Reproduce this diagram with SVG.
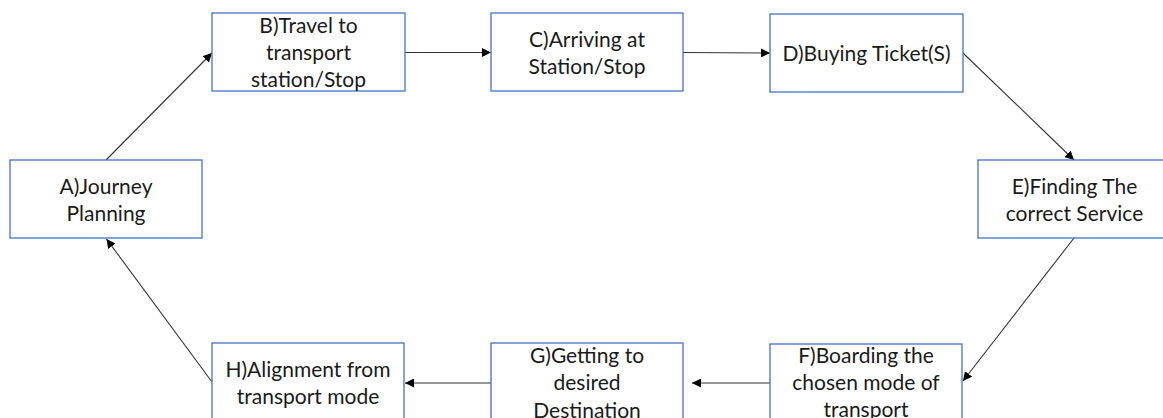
<svg xmlns="http://www.w3.org/2000/svg" width="1163" height="418" viewBox="0 0 1163 418">
<style>
.box{fill:#fff;stroke:#4472C4;stroke-width:1.3}
.lbl{font-family:Lato,"Liberation Sans",sans-serif;font-size:21px;fill:#1a1a1a;text-anchor:middle}
.edge{stroke:#333;stroke-width:1.1;fill:none;marker-end:url(#arr)}
</style>
<defs>
<marker id="arr" viewBox="0 0 10 10" refX="10" refY="5" markerWidth="9" markerHeight="9" markerUnits="userSpaceOnUse" orient="auto">
<path d="M0,0 L10,5 L0,10 z" fill="#000"/>
</marker>
</defs>
<rect width="1163" height="418" fill="#fff"/>
<g id="connectors">
<line class="edge" x1="106" y1="160" x2="212" y2="53"/>
<line class="edge" x1="405" y1="52.5" x2="491" y2="52.5"/>
<line class="edge" x1="683" y1="52.5" x2="770" y2="53"/>
<line class="edge" x1="963" y1="53" x2="1074" y2="160"/>
<line class="edge" x1="1074" y1="238" x2="963" y2="381"/>
<line class="edge" x1="770" y1="383" x2="692" y2="383"/>
<line class="edge" x1="491" y1="383" x2="405" y2="383"/>
<line class="edge" x1="212" y1="382" x2="106.5" y2="239"/>
</g>
<g id="nodeA">
<rect class="box" x="10" y="160" width="192" height="78"/>
<text class="lbl" x="106" y="194">A)Journey</text>
<text class="lbl" x="106" y="221">Planning</text>
</g>
<g id="nodeB">
<rect class="box" x="212" y="13" width="193" height="78"/>
<text class="lbl" x="308.5" y="33">B)Travel to</text>
<text class="lbl" x="308.5" y="60">transport</text>
<text class="lbl" x="308.5" y="87">station/Stop</text>
</g>
<g id="nodeC">
<rect class="box" x="491" y="13" width="192" height="78"/>
<text class="lbl" x="587" y="47">C)Arriving at</text>
<text class="lbl" x="587" y="74">Station/Stop</text>
</g>
<g id="nodeD">
<rect class="box" x="770" y="14" width="193" height="78"/>
<text class="lbl" x="866.5" y="61">D)Buying Ticket(S)</text>
</g>
<g id="nodeE">
<rect class="box" x="978" y="160" width="194" height="78"/>
<text class="lbl" x="1074.5" y="194">E)Finding The</text>
<text class="lbl" x="1074.5" y="221">correct Service</text>
</g>
<g id="nodeF">
<rect class="box" x="770" y="344" width="192" height="80"/>
<text class="lbl" x="866" y="363">F)Boarding the</text>
<text class="lbl" x="866" y="390">chosen mode of</text>
<text class="lbl" x="866" y="417">transport</text>
</g>
<g id="nodeG">
<rect class="box" x="491" y="343" width="192" height="80"/>
<text class="lbl" x="587" y="363">G)Getting to</text>
<text class="lbl" x="587" y="390">desired</text>
<text class="lbl" x="587" y="418">Destination</text>
</g>
<g id="nodeH">
<rect class="box" x="212" y="343" width="192" height="80"/>
<text class="lbl" x="308" y="377">H)Alignment from</text>
<text class="lbl" x="308" y="404">transport mode</text>
</g>
</svg>
